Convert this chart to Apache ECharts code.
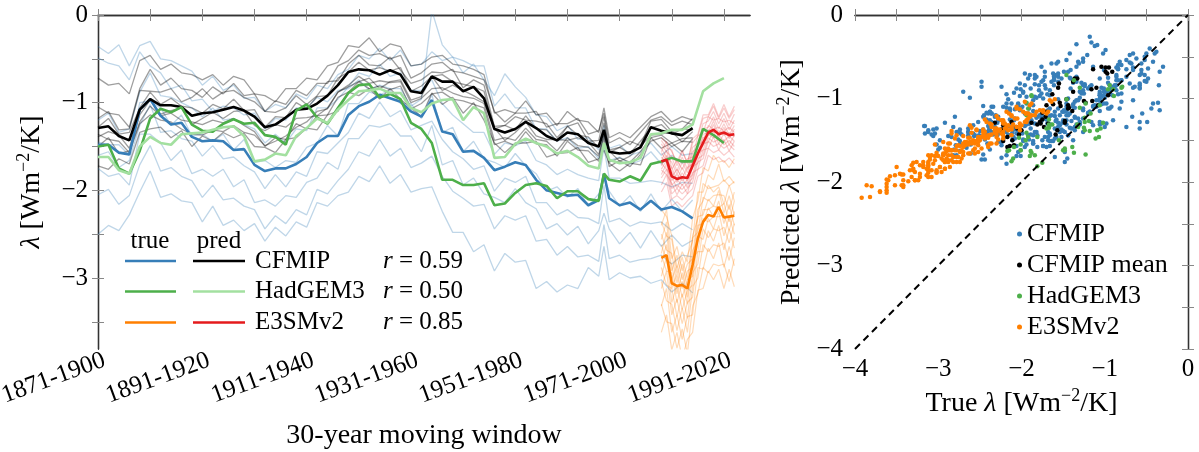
<!DOCTYPE html>
<html><head><meta charset="utf-8">
<script src="https://cdn.jsdelivr.net/npm/echarts@6/dist/echarts.min.js"></script>
<style>html,body{margin:0;padding:0;background:#fff}#c{width:1199px;height:452px}</style>
</head><body><div id="c"></div>
<script>
const FONT = 'Liberation Serif';
// window index = start year - 1871 (0 -> 1871-1900)
const windowIdx = [0,2,4,6,8,10,12,14,16,18,20,22,24,26,28,30,32,34,36,38,40,42,44,46,48,50,52,54,56,58,60,62,64,66,68,70,72,74,76,78,80,82,84,86,88,90,92,94,96,97,98,100,102,104,106,108,110,112,114,116,118,120];
const labelIdx = [0,20,40,60,80,100,120];
const tickLabels = ['1871-1900','1891-1920','1911-1940','1931-1960','1951-1980','1971-2000','1991-2020'];

const cfmipTrueMean = [-1.48,-1.48,-1.57,-1.59,-1.08,-0.96,-1.15,-1.25,-1.23,-1.39,
-1.44,-1.43,-1.44,-1.54,-1.53,-1.71,-1.78,-1.75,-1.75,-1.70,
-1.62,-1.46,-1.38,-1.38,-1.14,-1.04,-0.99,-0.91,-0.95,-0.99,
-1.10,-1.16,-0.97,-1.33,-1.36,-1.56,-1.55,-1.63,-1.77,-1.73,
-1.68,-1.71,-1.88,-2.00,-2.03,-2.06,-2.05,-2.17,-2.11,-1.81,
-2.09,-2.17,-2.14,-2.22,-2.12,-2.22,-2.19,-2.24,-2.32];
const cfmipPredMean = [-1.29,-1.27,-1.38,-1.43,-1.08,-0.96,-1.03,-1.03,-1.05,-1.15,
-1.12,-1.11,-1.08,-1.05,-1.09,-1.16,-1.28,-1.25,-1.17,-1.08,
-1.07,-1.01,-0.92,-0.80,-0.65,-0.62,-0.63,-0.68,-0.63,-0.68,
-0.87,-0.89,-0.70,-0.76,-0.76,-0.87,-0.82,-0.95,-1.30,-1.34,
-1.30,-1.22,-1.29,-1.38,-1.43,-1.34,-1.36,-1.46,-1.50,-1.31,
-1.56,-1.58,-1.57,-1.51,-1.28,-1.32,-1.35,-1.37,-1.29];
const hadTrue = [-1.50,-1.48,-1.75,-1.81,-1.55,-1.18,-1.07,-1.11,-1.05,-1.25,
-1.32,-1.33,-1.24,-1.19,-1.24,-1.23,-1.37,-1.39,-1.48,-1.09,
-1.02,-1.17,-1.24,-1.06,-0.89,-0.80,-0.79,-0.94,-0.90,-0.96,
-1.23,-1.30,-1.46,-1.88,-1.88,-1.94,-1.94,-1.92,-2.17,-2.15,
-2.03,-1.94,-1.92,-1.95,-2.09,-2.01,-2.01,-2.10,-2.12,-1.81,
-1.88,-1.90,-1.84,-1.89,-1.70,-1.67,-1.63,-1.67,-1.67,-1.30,-1.37,-1.46];
const hadPred = [-1.62,-1.62,-1.77,-1.81,-1.50,-1.39,-1.46,-1.48,-1.36,-1.35,
-1.34,-1.31,-1.28,-1.27,-1.38,-1.67,-1.65,-1.58,-1.60,-1.38,
-1.29,-1.18,-1.23,-1.08,-0.97,-0.87,-0.86,-0.84,-0.89,-0.89,
-1.06,-1.11,-1.01,-0.97,-0.96,-1.20,-1.05,-1.12,-1.63,-1.62,
-1.47,-1.41,-1.46,-1.50,-1.58,-1.55,-1.62,-1.72,-1.75,-1.46,
-1.65,-1.69,-1.68,-1.63,-1.36,-1.35,-1.31,-1.31,-1.25,-0.87,-0.78,-0.72];

// individual CFMIP models: true (light blue) and predicted (grey), paired by position
const cfmipTrueModels = [
[-0.36,-0.44,-0.34,-0.58,-0.35,-0.30,-0.50,-0.52,-0.58,-0.64,-0.80,-0.70,-0.86,-0.80,-0.95,-0.94,-1.10,-1.02,-1.06,-0.90,-0.96,-0.80,-0.84,-0.68,-0.62,-0.46,-0.50,-0.38,-0.52,-0.40,-0.58,-0.56,-0.42,-0.52,-0.48,-0.66,-0.56,-0.74,-0.92,-0.67,-0.82,-0.94,-1.14,-1.16,-1.32,-1.26,-1.42,-1.40,-1.54,-1.26,-1.52,-1.48,-1.60,-1.56,-1.46,-1.60,-1.50,-1.60,-1.58],
[-0.49,-0.55,-0.58,-0.74,-0.42,-0.58,-0.66,-0.84,-0.80,-0.98,-0.96,-1.10,-1.04,-1.06,-1.14,-1.12,-1.30,-1.18,-1.20,-1.06,-1.06,-0.94,-0.99,-0.86,-0.84,-0.74,-0.86,-0.80,-0.84,-0.84,-1.04,-0.96,0.05,-0.34,-0.48,-0.52,-0.58,-0.58,-1.04,-0.90,-1.06,-1.06,-1.30,-1.30,-1.44,-1.40,-1.52,-1.50,-1.64,-1.36,-1.66,-1.62,-1.70,-1.66,-1.56,-1.70,-1.60,-1.69,-1.65],
[-1.20,-1.12,-1.34,-1.30,-0.88,-0.66,-0.92,-0.94,-1.00,-1.06,-1.16,-1.06,-1.20,-1.18,-1.25,-1.30,-1.46,-1.36,-1.46,-1.30,-1.32,-1.06,-1.06,-0.96,-0.82,-0.66,-0.70,-0.56,-0.70,-0.66,-0.86,-0.86,-0.74,-1.01,-1.14,-1.24,-1.34,-1.34,-1.59,-1.46,-1.49,-1.44,-1.66,-1.71,-1.82,-1.76,-1.82,-1.86,-1.89,-1.51,-1.86,-1.86,-1.92,-1.91,-1.89,-1.91,-1.96,-1.91,-1.92],
[-1.45,-1.48,-1.48,-1.60,-1.00,-0.98,-1.06,-1.26,-1.14,-1.38,-1.36,-1.44,-1.36,-1.54,-1.42,-1.68,-1.66,-1.74,-1.66,-1.68,-1.51,-1.46,-1.26,-1.38,-1.01,-1.01,-0.88,-0.91,-0.86,-1.01,-1.01,-1.18,-0.91,-1.34,-1.28,-1.56,-1.44,-1.64,-1.68,-1.74,-1.58,-1.72,-1.81,-2.01,-1.96,-2.08,-1.98,-2.18,-2.04,-1.86,-2.01,-2.18,-2.06,-2.24,-2.04,-2.24,-2.10,-2.24,-2.11],
[-1.60,-1.56,-1.74,-1.66,-1.26,-1.02,-1.34,-1.32,-1.41,-1.44,-1.61,-1.49,-1.64,-1.62,-1.72,-1.79,-1.98,-1.82,-1.96,-1.79,-1.84,-1.56,-1.58,-1.46,-1.34,-1.12,-1.18,-0.99,-1.16,-1.09,-1.31,-1.26,-1.21,-1.42,-1.56,-1.64,-1.76,-1.72,-2.01,-1.86,-1.91,-1.84,-2.14,-2.14,-2.28,-2.22,-2.31,-2.32,-2.38,-1.94,-2.36,-2.32,-2.41,-2.36,-2.38,-2.36,-2.46,-2.38,-2.45],
[-1.75,-1.84,-1.81,-1.94,-1.36,-1.36,-1.46,-1.66,-1.54,-1.81,-1.76,-1.84,-1.76,-1.96,-1.88,-2.14,-2.11,-2.18,-2.06,-2.08,-1.91,-1.86,-1.68,-1.76,-1.41,-1.41,-1.26,-1.28,-1.24,-1.38,-1.38,-1.56,-1.26,-1.71,-1.66,-1.94,-1.86,-2.04,-2.08,-2.14,-1.98,-2.14,-2.21,-2.44,-2.38,-2.51,-2.41,-2.61,-2.46,-2.26,-2.44,-2.61,-2.48,-2.66,-2.46,-2.64,-2.51,-2.64,-2.57],
[-2.05,-1.99,-2.16,-2.06,-1.71,-1.49,-1.78,-1.74,-1.84,-1.89,-2.08,-1.94,-2.11,-2.09,-2.18,-2.22,-2.44,-2.29,-2.38,-2.22,-2.28,-1.99,-2.04,-1.89,-1.76,-1.56,-1.61,-1.42,-1.61,-1.52,-1.74,-1.69,-1.61,-1.84,-2.01,-2.09,-2.18,-2.16,-2.44,-2.29,-2.34,-2.29,-2.58,-2.56,-2.74,-2.64,-2.76,-2.74,-2.81,-2.39,-2.78,-2.74,-2.82,-2.79,-2.78,-2.74,-2.84,-2.74,-2.76],
[-2.50,-2.40,-2.46,-2.28,-2.02,-1.78,-2.08,-2.04,-2.12,-2.14,-2.36,-2.18,-2.40,-2.34,-2.46,-2.38,-2.58,-2.42,-2.52,-2.36,-2.42,-2.14,-2.18,-2.06,-2.02,-1.84,-1.90,-1.72,-1.92,-1.82,-2.02,-1.98,-1.96,-2.24,-2.48,-2.48,-2.70,-2.62,-2.92,-2.72,-2.82,-2.80,-3.12,-3.04,-3.16,-3.08,-3.12,-2.88,-2.98,-2.64,-3.02,-2.94,-3.00,-2.98,-3.06,-3.02,-3.16,-3.06,-3.17]
];
const cfmipPredModels = [
[-1.05,-1.12,-1.14,-1.28,-0.84,-0.62,-0.80,-0.72,-0.84,-0.86,-0.94,-0.82,-0.90,-0.78,-0.92,-0.90,-1.10,-0.98,-1.02,-0.86,-0.92,-0.78,-0.78,-0.58,-0.52,-0.40,-0.46,-0.44,-0.50,-0.46,-0.72,-0.66,-0.56,-0.54,-0.64,-0.66,-0.70,-0.74,-1.10,-1.22,-1.12,-1.12,-1.10,-1.28,-1.24,-1.24,-1.18,-1.36,-1.32,-1.12,-1.46,-1.40,-1.48,-1.34,-1.20,-1.16,-1.26,-1.21,-1.25],
[-1.28,-1.18,-1.36,-1.34,-1.06,-0.88,-1.02,-0.95,-1.04,-1.06,-1.12,-1.02,-1.07,-0.96,-1.09,-1.08,-1.28,-1.16,-1.17,-1.00,-1.07,-0.93,-0.92,-0.72,-0.65,-0.54,-0.63,-0.60,-0.64,-0.60,-0.87,-0.81,-0.70,-0.68,-0.76,-0.79,-0.82,-0.87,-1.30,-1.26,-1.31,-1.15,-1.30,-1.31,-1.44,-1.27,-1.37,-1.39,-1.51,-1.23,-1.57,-1.51,-1.58,-1.44,-1.29,-1.25,-1.36,-1.30,-1.31],
[-1.18,-1.10,-1.31,-1.30,-0.86,-0.87,-0.88,-0.84,-0.99,-0.94,-0.84,-0.96,-0.88,-0.86,-0.94,-0.99,-1.10,-1.11,-1.06,-0.92,-1.02,-0.92,-0.76,-0.75,-0.56,-0.46,-0.57,-0.58,-0.48,-0.63,-0.78,-0.74,-0.65,-0.66,-0.62,-0.83,-0.74,-0.80,-1.27,-1.26,-1.16,-1.20,-1.21,-1.24,-1.40,-1.27,-1.23,-1.44,-1.43,-1.16,-1.54,-1.51,-1.44,-1.49,-1.21,-1.19,-1.33,-1.30,-1.18],
[-1.72,-1.76,-1.64,-1.70,-1.34,-1.30,-1.28,-1.40,-1.32,-1.50,-1.38,-1.44,-1.34,-1.40,-1.35,-1.50,-1.51,-1.57,-1.42,-1.40,-1.29,-1.31,-1.14,-1.10,-0.88,-0.92,-0.84,-0.96,-0.84,-0.96,-1.06,-1.16,-0.89,-1.02,-0.94,-1.12,-1.00,-1.20,-1.46,-1.57,-1.46,-1.46,-1.44,-1.62,-1.58,-1.57,-1.51,-1.68,-1.64,-1.54,-1.69,-1.78,-1.69,-1.71,-1.40,-1.52,-1.46,-1.56,-1.41],
[-0.72,-0.80,-0.78,-0.90,-0.52,-0.46,-0.62,-0.56,-0.66,-0.68,-0.74,-0.68,-0.80,-0.70,-0.74,-0.90,-0.92,-0.99,-0.84,-0.84,-0.72,-0.74,-0.58,-0.54,-0.35,-0.37,-0.26,-0.42,-0.33,-0.36,-0.58,-0.56,-0.48,-0.46,-0.56,-0.58,-0.62,-0.68,-1.12,-1.08,-1.12,-0.98,-1.14,-1.12,-1.26,-1.10,-1.20,-1.22,-1.34,-1.06,-1.40,-1.34,-1.40,-1.28,-1.16,-1.10,-1.22,-1.16,-1.20],
[-1.50,-1.40,-1.58,-1.55,-1.22,-1.04,-1.15,-1.12,-1.20,-1.22,-1.25,-1.20,-1.23,-1.18,-1.26,-1.33,-1.50,-1.40,-1.42,-1.24,-1.30,-1.15,-1.14,-0.94,-0.88,-0.76,-0.84,-0.81,-0.85,-0.81,-1.07,-1.01,-0.90,-0.88,-0.96,-0.98,-1.02,-1.06,-1.48,-1.44,-1.49,-1.33,-1.47,-1.48,-1.61,-1.44,-1.54,-1.55,-1.67,-1.41,-1.73,-1.66,-1.73,-1.59,-1.44,-1.40,-1.50,-1.44,-1.45],
[-1.36,-1.42,-1.44,-1.57,-1.24,-1.14,-1.20,-1.22,-1.30,-1.36,-1.37,-1.31,-1.33,-1.26,-1.34,-1.37,-1.49,-1.44,-1.38,-1.28,-1.22,-1.10,-1.07,-0.88,-0.80,-0.70,-0.78,-0.75,-0.77,-0.76,-1.00,-0.95,-0.84,-0.83,-0.89,-0.93,-0.95,-1.01,-1.43,-1.40,-1.43,-1.29,-1.42,-1.44,-1.55,-1.40,-1.49,-1.51,-1.61,-1.37,-1.68,-1.63,-1.68,-1.56,-1.40,-1.37,-1.46,-1.41,-1.40],
[-1.39,-1.33,-1.37,-1.52,-1.14,-0.97,-1.13,-1.09,-1.06,-1.25,-1.18,-1.11,-1.18,-1.10,-1.09,-1.26,-1.32,-1.25,-1.28,-1.18,-1.17,-1.15,-1.06,-0.88,-0.82,-0.76,-0.72,-0.84,-0.76,-0.74,-0.97,-0.93,-0.70,-0.86,-0.80,-0.86,-0.92,-0.99,-1.29,-1.43,-1.34,-1.22,-1.38,-1.42,-1.42,-1.43,-1.40,-1.45,-1.59,-1.36,-1.55,-1.67,-1.61,-1.50,-1.37,-1.36,-1.33,-1.45,-1.33]
];

// E3SMv2 ensemble (windows 1979-2008 .. 1993-2022)
const e3smIdx = [108,109,110,111,112,113,114,115,116,117,118,119,120,121,122];
const e3smTrueMean = [-2.77,-2.74,-3.06,-3.09,-3.08,-3.12,-2.85,-2.55,-2.36,-2.28,-2.30,-2.19,-2.31,-2.30,-2.29];
const e3smPredMean = [-1.67,-1.65,-1.84,-1.87,-1.85,-1.86,-1.72,-1.58,-1.46,-1.34,-1.31,-1.36,-1.34,-1.37,-1.36];
const e3smTrueMembers = [
[-2.22,-2.30,-2.52,-2.88,-2.70,-2.82,-2.32,-2.12,-1.74,-1.78,-1.60,-1.68,-1.66,-1.74,-1.64],
[-2.40,-2.22,-2.78,-2.64,-2.92,-2.74,-2.58,-2.02,-2.02,-1.82,-1.88,-1.70,-1.90,-1.84,-1.92],
[-2.36,-2.52,-2.56,-2.96,-2.76,-3.02,-2.52,-2.32,-1.92,-1.98,-1.96,-1.94,-1.88,-1.95,-1.90],
[-2.56,-2.36,-2.92,-2.74,-3.02,-2.84,-2.78,-2.22,-2.12,-1.94,-2.02,-1.96,-2.16,-1.94,-2.12],
[-2.50,-2.68,-2.72,-3.06,-2.84,-3.12,-2.54,-2.48,-2.08,-2.12,-2.06,-2.05,-2.06,-2.22,-2.02],
[-2.72,-2.48,-3.02,-2.86,-3.12,-2.92,-2.88,-2.30,-2.28,-2.10,-2.18,-2.00,-2.26,-2.06,-2.28],
[-2.62,-2.80,-2.84,-3.18,-2.94,-3.22,-2.68,-2.58,-2.22,-2.22,-2.18,-2.20,-2.15,-2.36,-2.12],
[-2.82,-2.62,-3.12,-2.96,-3.22,-3.02,-2.98,-2.40,-2.38,-2.20,-2.30,-2.12,-2.38,-2.16,-2.40],
[-2.74,-2.92,-2.94,-3.28,-3.04,-3.30,-2.78,-2.70,-2.32,-2.36,-2.30,-2.30,-2.28,-2.46,-2.24],
[-2.98,-2.76,-3.28,-3.08,-3.36,-3.14,-3.08,-2.52,-2.56,-2.32,-2.44,-2.24,-2.52,-2.30,-2.50],
[-2.88,-3.08,-3.12,-3.44,-3.18,-3.46,-2.94,-2.84,-2.44,-2.54,-2.44,-2.46,-2.42,-2.60,-2.38],
[-3.12,-2.92,-3.42,-3.24,-3.52,-3.28,-3.22,-2.70,-2.70,-2.46,-2.58,-2.40,-2.68,-2.44,-2.66],
[-3.04,-3.26,-3.30,-3.60,-3.34,-3.62,-3.10,-3.00,-2.62,-2.70,-2.62,-2.64,-2.60,-2.80,-2.54],
[-3.32,-3.12,-3.62,-3.42,-3.70,-3.44,-3.42,-2.88,-2.90,-2.66,-2.78,-2.60,-2.88,-2.64,-2.86],
[-3.30,-3.50,-3.52,-3.80,-3.58,-3.86,-3.32,-3.18,-2.88,-2.94,-2.84,-2.86,-2.84,-3.04,-2.78],
[-3.62,-3.42,-3.82,-3.62,-3.92,-3.70,-3.62,-3.14,-3.12,-2.92,-3.02,-2.90,-3.12,-2.90,-3.10]
];
const e3smPredMembers = [
[-1.40,-1.46,-1.56,-1.68,-1.54,-1.70,-1.41,-1.36,-1.14,-1.14,-1.01,-1.16,-1.02,-1.16,-1.04],
[-1.56,-1.44,-1.76,-1.66,-1.76,-1.64,-1.62,-1.38,-1.34,-1.16,-1.20,-1.18,-1.22,-1.20,-1.24],
[-1.43,-1.52,-1.54,-1.72,-1.56,-1.68,-1.46,-1.38,-1.18,-1.16,-1.04,-1.18,-1.06,-1.18,-1.08],
[-1.66,-1.54,-1.84,-1.76,-1.86,-1.74,-1.70,-1.48,-1.44,-1.26,-1.30,-1.28,-1.32,-1.28,-1.34],
[-1.47,-1.56,-1.62,-1.78,-1.62,-1.76,-1.51,-1.46,-1.24,-1.21,-1.10,-1.24,-1.12,-1.26,-1.13],
[-1.72,-1.60,-1.89,-1.82,-1.89,-1.84,-1.74,-1.54,-1.49,-1.31,-1.34,-1.32,-1.37,-1.34,-1.39],
[-1.52,-1.62,-1.68,-1.82,-1.68,-1.80,-1.56,-1.51,-1.30,-1.28,-1.16,-1.30,-1.18,-1.31,-1.20],
[-1.76,-1.66,-1.94,-1.88,-1.94,-1.88,-1.82,-1.58,-1.54,-1.36,-1.40,-1.37,-1.44,-1.38,-1.44],
[-1.57,-1.66,-1.74,-1.88,-1.74,-1.86,-1.62,-1.58,-1.36,-1.34,-1.21,-1.36,-1.24,-1.37,-1.26],
[-1.82,-1.70,-1.98,-1.94,-1.99,-1.92,-1.86,-1.64,-1.60,-1.40,-1.45,-1.42,-1.48,-1.43,-1.50],
[-1.62,-1.68,-1.78,-1.91,-1.80,-1.90,-1.66,-1.62,-1.40,-1.38,-1.25,-1.40,-1.28,-1.41,-1.30],
[-1.86,-1.76,-2.04,-1.98,-2.04,-1.98,-1.90,-1.68,-1.64,-1.44,-1.50,-1.47,-1.52,-1.48,-1.54],
[-1.69,-1.76,-1.84,-1.98,-1.86,-1.97,-1.73,-1.69,-1.47,-1.45,-1.32,-1.47,-1.35,-1.48,-1.37],
[-1.94,-1.82,-2.10,-2.06,-2.11,-2.04,-1.98,-1.76,-1.72,-1.52,-1.57,-1.54,-1.60,-1.55,-1.62],
[-1.77,-1.82,-1.92,-2.05,-1.93,-2.04,-1.80,-1.76,-1.54,-1.52,-1.39,-1.54,-1.42,-1.55,-1.44],
[-2.02,-1.91,-2.18,-2.13,-2.19,-2.12,-2.06,-1.84,-1.80,-1.60,-1.65,-1.62,-1.68,-1.63,-1.70]
];
const identityLine = [-4, 0];
const rValues = ['0.59', '0.50', '0.85'];
const groupNames = ['CFMIP', 'HadGEM3', 'E3SMv2'];

const C = {
  blue: '#377eb8', black: '#000000', green: '#4daf4a', lgreen: '#a3e0a0',
  orange: '#ff7f00', red: '#e41a1c',
  fBlue: 'rgba(55,126,184,0.32)', fGray: 'rgba(0,0,0,0.38)',
  fOrange: 'rgba(255,127,0,0.28)', fRed: 'rgba(228,26,28,0.22)'
};

const pairs = (xs, ys) => ys.map((y, i) => [xs[i], y]);
const zipXY = (xs, ys) => xs.map((x, i) => [x, ys[i]]);
const minus = v => '{t|' + (v < 0 ? '\u2212' : '') + Math.abs(v) + '}';

function lineS(name, data, color, width) {
  return { name, type: 'line', xAxisIndex: 0, yAxisIndex: 0, data, symbol: 'none', showSymbol: false,
    lineStyle: { color, width }, itemStyle: { color }, silent: true, animation: false, emphasis: { disabled: true } };
}
const series = [];
cfmipTrueModels.forEach((a, k) => series.push(lineS('cfmip true m' + k, pairs(windowIdx, a), C.fBlue, 1.3)));
cfmipPredModels.forEach((a, k) => series.push(lineS('cfmip pred m' + k, pairs(windowIdx, a), C.fGray, 1.3)));
e3smTrueMembers.forEach((a, k) => series.push(lineS('e3sm true m' + k, pairs(e3smIdx, a), C.fOrange, 1.2)));
e3smPredMembers.forEach((a, k) => series.push(lineS('e3sm pred m' + k, pairs(e3smIdx, a), C.fRed, 1.2)));
series.push(lineS('cfmip true mean', pairs(windowIdx, cfmipTrueMean), C.blue, 2.6));
series.push(lineS('cfmip pred mean', pairs(windowIdx, cfmipPredMean), C.black, 2.6));
series.push(lineS('had true', pairs(windowIdx, hadTrue), C.green, 2.6));
series.push(lineS('had pred', pairs(windowIdx, hadPred), C.lgreen, 2.6));
series.push(lineS('e3sm true mean', pairs(e3smIdx, e3smTrueMean), C.orange, 2.6));
series.push(lineS('e3sm pred mean', pairs(e3smIdx, e3smPredMean), C.red, 2.6));

// scatter panel
function scat(name, data, color) {
  return { name, type: 'scatter', xAxisIndex: 2, yAxisIndex: 2, data, symbolSize: 4.5,
    itemStyle: { color, opacity: 1 }, silent: true, animation: false };
}
const cfmipPts = cfmipTrueModels.flatMap((a, k) => zipXY(a, cfmipPredModels[k]));
const e3smPts = e3smTrueMembers.flatMap((a, k) => zipXY(a, e3smPredMembers[k]));
series.push({ name: 'identity', type: 'line', xAxisIndex: 2, yAxisIndex: 2,
  data: identityLine.map(v => [v, v]), symbol: 'none', silent: true, animation: false,
  lineStyle: { color: '#000', width: 2, type: [7, 5] } });
series.push(scat('CFMIP', cfmipPts, C.blue));
series.push(scat('CFMIP mean', zipXY(cfmipTrueMean, cfmipPredMean), C.black));
series.push(scat('HadGEM3', zipXY(hadTrue, hadPred), C.green));
series.push(scat('E3SMv2', e3smPts, C.orange));

const tickStyle = { show: true, inside: true, length: 6, lineStyle: { color: '#888', width: 1 } };
const axLine = { show: true, lineStyle: { color: '#333', width: 1.3 } };
const tRich = { t: { fontFamily: FONT, fontSize: 25, color: '#000' } };
const lblBase = { fontFamily: FONT, fontSize: 25, color: '#000', rich: tRich };
const richName = {
  l: { fontFamily: FONT, fontSize: 28, fontStyle: 'italic', color: '#000' },
  s: { fontFamily: FONT, fontSize: 18, color: '#000', verticalAlign: 'top', lineHeight: 33 }
};
const nameStyle = { fontFamily: FONT, fontSize: 28, color: '#000', rich: richName };

const leftTicksY = [0, -0.5, -1, -1.5, -2, -2.5, -3, -3.5];
const leftTicksX = [0, 10, 20, 30, 40, 50, 60, 70, 80, 90, 100, 110, 120];
const rTicks = [-4, -3.5, -3, -2.5, -2, -1.5, -1, -0.5, 0];
const rLabels = [-4, -3, -2, -1, 0];

const option = {
  animation: false,
  backgroundColor: '#fff',
  textStyle: { fontFamily: FONT },
  grid: [
    { left: 98, top: 15, width: 652, height: 334, containLabel: false, outerBoundsMode: 'none' },
    { left: 855, top: 15, width: 333, height: 334, containLabel: false, outerBoundsMode: 'none' }
  ],
  xAxis: [
    { gridIndex: 0, type: 'value', min: 0, max: 125, position: 'bottom', axisLine: axLine,
      axisTick: Object.assign({ customValues: leftTicksX }, tickStyle), splitLine: { show: false },
      axisLabel: Object.assign({ customValues: labelIdx, rotate: 20, margin: 13, padding: [0, -7, 0, 0],
        formatter: v => '{t|' + tickLabels[labelIdx.indexOf(v)] + '}' }, lblBase),
      name: '30-year moving window', nameLocation: 'middle', nameGap: 73, nameTextStyle: nameStyle },
    { gridIndex: 0, type: 'value', min: 0, max: 125, position: 'top', axisLine: axLine,
      axisTick: Object.assign({ customValues: leftTicksX }, tickStyle), axisLabel: { show: false }, splitLine: { show: false } },
    { gridIndex: 1, type: 'value', min: -4, max: 0, interval: 0.5, position: 'bottom', axisLine: axLine,
      axisTick: Object.assign({ customValues: rTicks }, tickStyle), splitLine: { show: false },
      axisLabel: Object.assign({ customValues: rLabels, margin: 8, formatter: minus }, lblBase),
      name: 'True {l|λ} [Wm{s|\u22122}/K]', nameLocation: 'middle', nameGap: 34, nameTextStyle: nameStyle },
    { gridIndex: 1, type: 'value', min: -4, max: 0, interval: 0.5, position: 'top', axisLine: axLine,
      axisTick: Object.assign({ customValues: rTicks }, tickStyle), axisLabel: { show: false }, splitLine: { show: false } }
  ],
  yAxis: [
    { gridIndex: 0, type: 'value', min: -3.81, max: 0, position: 'left', axisLine: axLine,
      axisTick: Object.assign({ customValues: leftTicksY }, tickStyle), splitLine: { show: false },
      axisLabel: Object.assign({ customValues: [0, -1, -2, -3], margin: 10, formatter: minus }, lblBase),
      name: '{l|λ} [Wm{s|\u22122}/K]', nameLocation: 'middle', nameGap: 50, nameRotate: 90, nameTextStyle: nameStyle },
    { gridIndex: 0, type: 'value', min: -3.81, max: 0, position: 'right', axisLine: axLine,
      axisTick: Object.assign({ customValues: leftTicksY }, tickStyle), axisLabel: { show: false }, splitLine: { show: false } },
    { gridIndex: 1, type: 'value', min: -4, max: 0, interval: 0.5, position: 'left', axisLine: axLine,
      axisTick: Object.assign({ customValues: rTicks }, tickStyle), splitLine: { show: false },
      axisLabel: Object.assign({ customValues: rLabels, margin: 12, formatter: minus }, lblBase),
      name: 'Predicted {l|λ} [Wm{s|\u22122}/K]', nameLocation: 'middle', nameGap: 47, nameRotate: 90, nameTextStyle: nameStyle },
    { gridIndex: 1, type: 'value', min: -4, max: 0, interval: 0.5, position: 'right', axisLine: axLine,
      axisTick: Object.assign({ customValues: rTicks }, tickStyle), axisLabel: { show: false }, splitLine: { show: false } }
  ],
  legend: {
    data: ['CFMIP', 'CFMIP mean', 'HadGEM3', 'E3SMv2'], orient: 'vertical', left: 1012, top: 216,
    icon: 'circle', itemWidth: 5, itemHeight: 5, itemGap: 5, selectedMode: false,
    formatter: n => '{t|' + n + '}',
    textStyle: { fontFamily: FONT, fontSize: 26, lineHeight: 26, color: '#000',
      rich: { t: { fontFamily: FONT, fontSize: 26, lineHeight: 26, color: '#000' } } }
  },
  graphic: [],
  series
};

// custom two-column legend of the left panel
const legRows = [261, 291.5, 322.5];
const trueCols = [C.blue, C.green, C.orange];
const predCols = [C.black, C.lgreen, C.red];
const g = option.graphic;
const txt = (x, y, text, align, rich) => ({ type: 'text', x, y, silent: true,
  style: Object.assign({ text, fontFamily: FONT, fontSize: 25, fill: '#000', textAlign: align, textVerticalAlign: 'middle' }, rich ? { rich } : {}) });
g.push(txt(150, 241, 'true', 'center'));
g.push(txt(219, 241, 'pred', 'center'));
legRows.forEach((y, i) => {
  g.push({ type: 'line', silent: true, shape: { x1: 125, y1: y, x2: 176, y2: y }, style: { stroke: trueCols[i], lineWidth: 2.6 } });
  g.push({ type: 'line', silent: true, shape: { x1: 193, y1: y, x2: 245, y2: y }, style: { stroke: predCols[i], lineWidth: 2.6 } });
  g.push(txt(255, y, groupNames[i], 'left'));
  g.push(txt(383, y, '{i|r} = ' + rValues[i], 'left', { i: { fontFamily: FONT, fontSize: 25, fontStyle: 'italic', fill: '#000' } }));
});

const chart = echarts.init(document.getElementById('c'), null, { renderer: 'canvas' });
chart.setOption(option);
</script></body></html>
